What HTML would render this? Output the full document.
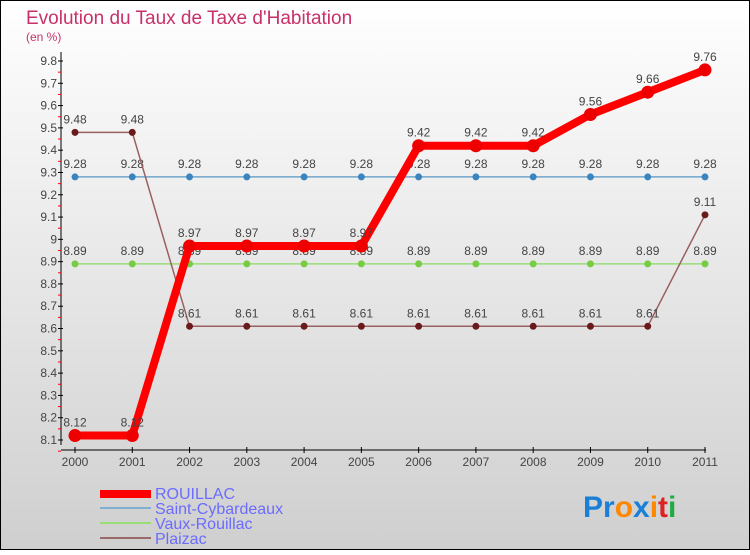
<!DOCTYPE html>
<html><head><meta charset="utf-8"><style>
body{margin:0}
#c{width:750px;height:550px;position:relative;font-family:"Liberation Sans",sans-serif;}
</style></head><body>
<div id="c">
<svg id="s" width="750" height="550" xmlns="http://www.w3.org/2000/svg">
<defs><linearGradient id="bg" x1="0" y1="0" x2="0" y2="1"><stop offset="0" stop-color="#ffffff"/><stop offset="1" stop-color="#cfcfcf"/></linearGradient></defs>
<rect x="0.5" y="0.5" width="749" height="549" fill="url(#bg)" stroke="#000"/>
<text x="26" y="24" font-size="19" fill="#c8306a">Evolution du Taux de Taxe d'Habitation</text>
<text x="26" y="41" font-size="12" fill="#c8306a">(en %)</text>
<g id="axes"></g><g id="series"></g>
<g>
<rect x="100" y="490" width="51" height="8" fill="#ff0000"/>
<text x="155" y="499" font-size="16" fill="#6b6bff">ROUILLAC</text>
<rect x="100" y="507" width="51" height="2" fill="#7fb0d0"/>
<text x="155" y="514" font-size="16" fill="#6b6bff">Saint-Cybardeaux</text>
<rect x="100" y="522" width="51" height="2" fill="#99dd77"/>
<text x="155" y="529" font-size="16" fill="#6b6bff">Vaux-Rouillac</text>
<rect x="100" y="537" width="51" height="2" fill="#9a6a6a"/>
<text x="155" y="544" font-size="16" fill="#6b6bff">Plaizac</text>
</g>
<g font-size="30" font-weight="bold">
<text x="583" y="517"><tspan fill="#1a7fd6">Pr</tspan><tspan fill="#ff8800">o</tspan><tspan fill="#1a7fd6">x</tspan><tspan fill="#ff8800">i</tspan><tspan fill="#dd2222">t</tspan><tspan fill="#22aa44">i</tspan></text>
</g>
</svg>
<script>
const years=["2000","2001","2002","2003","2004","2005","2006","2007","2008","2009","2010","2011"];
const yTicks=[8.1,8.2,8.3,8.4,8.5,8.6,8.7,8.8,8.9,9,9.1,9.2,9.3,9.4,9.5,9.6,9.7,9.8];
const rouillac=[8.12,8.12,8.97,8.97,8.97,8.97,9.42,9.42,9.42,9.56,9.66,9.76];
const saintCybardeaux=[9.28,9.28,9.28,9.28,9.28,9.28,9.28,9.28,9.28,9.28,9.28,9.28];
const vauxRouillac=[8.89,8.89,8.89,8.89,8.89,8.89,8.89,8.89,8.89,8.89,8.89,8.89];
const plaizac=[9.48,9.48,8.61,8.61,8.61,8.61,8.61,8.61,8.61,8.61,8.61,9.11];
const NS="http://www.w3.org/2000/svg";
const xS=i=>75+i*(705-75)/(years.length-1);
const yS=v=>61+(9.8-v)*(440-61)/1.7;
function mk(t,a,p){const e=document.createElementNS(NS,t);for(const k in a)e.setAttribute(k,a[k]);p.appendChild(e);return e;}
const ax=document.getElementById('axes');
const yl=mk('line',{x1:61,y1:52,x2:61,y2:445,stroke:'#000'},ax);


const xl=mk('line',{x1:61,y1:450,x2:706,y2:450,stroke:'#000'},ax);


yTicks.forEach(v=>{const y=yS(v);
mk('line',{x1:58,x2:63,y1:y,y2:y,stroke:'#000'},ax);
mk('line',{x1:58,x2:61,y1:y+11.15,y2:y+11.15,stroke:'#f00'},ax);
const t=mk('text',{x:57,y:y+4,'text-anchor':'end','font-size':12,fill:'#444'},ax);t.textContent=(+v.toFixed(1)).toString();

});
years.forEach((yr,i)=>{const x=xS(i);mk('line',{x1:x,x2:x,y1:447,y2:453,stroke:'#000'},ax);
const t=mk('text',{x:x,y:466,'text-anchor':'middle','font-size':12,fill:'#444'},ax);t.textContent=yr;

});
const sg=document.getElementById('series');
function draw(data,name,color,lw,r,dot){const g=mk('g',{},sg);


mk('polyline',{points:data.map((v,i)=>xS(i)+','+yS(v)).join(' '),fill:'none',stroke:color,'stroke-width':lw,'stroke-linejoin':'round'},g);
data.forEach((v,i)=>{const c=mk('circle',{cx:xS(i),cy:yS(v),r:r,fill:dot},g);


const t=mk('text',{x:xS(i),y:yS(v)-9,'text-anchor':'middle','font-size':12,fill:'#444'},g);t.textContent=v.toString();

});}
draw(saintCybardeaux,'saint-cybardeaux','#6fa6cc',1.5,3.5,'#3a85c0');
draw(vauxRouillac,'vaux-rouillac','#99dd77',1.5,3.5,'#77cc44');
draw(plaizac,'plaizac','#9a6060',1.5,3.5,'#6a1a1a');
draw(rouillac,'rouillac','#ff0000',8,6.5,'#ee0000');
</script>
</div></body></html>
